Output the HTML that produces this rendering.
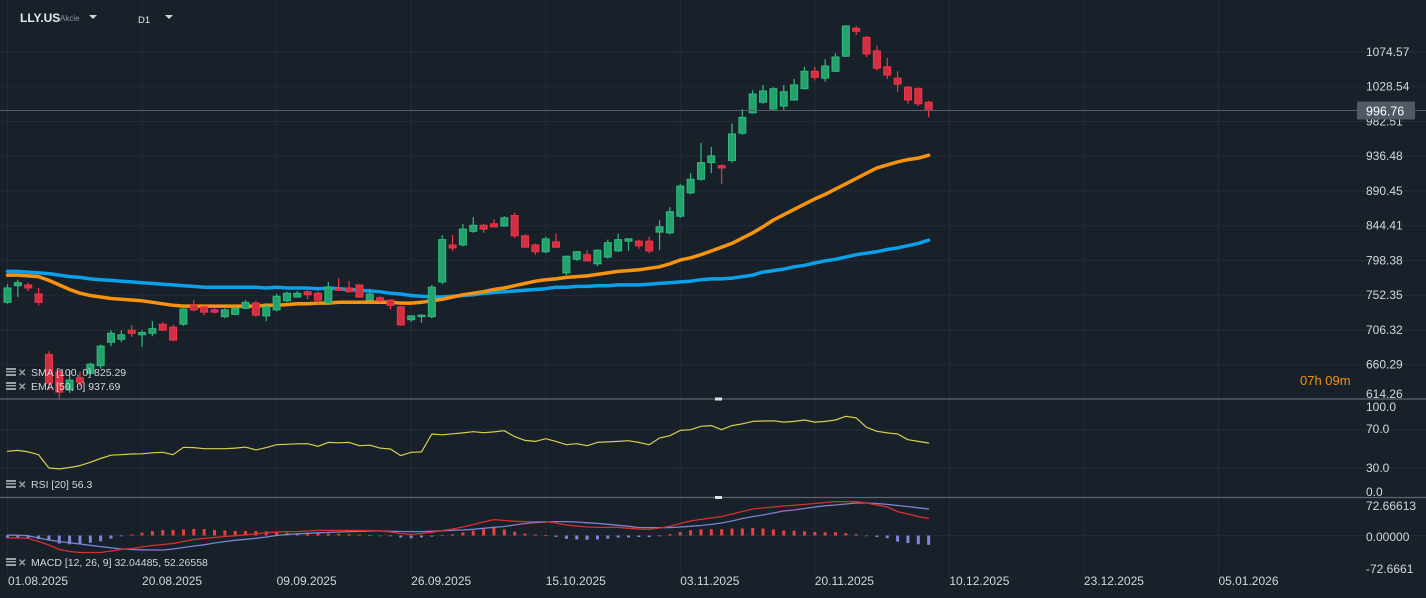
<!DOCTYPE html>
<html><head><meta charset="utf-8"><style>
html,body{margin:0;padding:0;background:#18202a;overflow:hidden}
svg{display:block;font-family:"Liberation Sans",sans-serif}
</style></head><body>
<svg id="chart" width="1426" height="598" viewBox="0 0 1426 598" xmlns="http://www.w3.org/2000/svg">
<rect x="0" y="0" width="1426" height="598" fill="#18202a"/>
<g id="grid"></g>
<g id="main"></g>
<g id="rsi"></g>
<g id="macd"></g>
<g id="axes"></g>
<g>
<text x="20" y="22" fill="#e8eaed" font-size="12" font-weight="bold">LLY.US</text>
<text x="60" y="21" fill="#8a939c" font-size="8">Akcie</text>
<path d="M89 15 L97 15 L93 19 Z" fill="#cfd3d7"/>
<text x="138" y="23" fill="#e8eaed" font-size="9.5">D1</text>
<path d="M165 15 L173 15 L169 19 Z" fill="#cfd3d7"/>
</g>
</svg>
<script>
const categories=["01.08.2025","20.08.2025","09.09.2025","26.09.2025","15.10.2025","03.11.2025","20.11.2025","10.12.2025","23.12.2025","05.01.2026"];
const priceTicks=[1074.57,1028.54,982.51,936.48,890.45,844.41,798.38,752.35,706.32,660.29,614.26];
const openV=[743,765,766,754,674,651,627,643,649,659,690,694,706,700,702,714,710,714,739,737,733,724,727,735,742,725,733,745,750,757,755,742,761,762,766,746,749,746,737,720,724,724,770,819,819,837,845,847,844,858,831,819,810,823,782,800,806,794,803,811,824,824,824,836,835,857,888,906,928,924,931,967,994,1008,999,1003,1011,1026,1049,1040,1049,1069,1106,1094,1076,1055,1040,1028,1026,1008];
const highV=[767,773,769,762,678,656,653,651,663,687,706,706,713,706,718,717,713,735,746,739,735,735,737,746,745,742,754,757,758,759,757,770,775,771,767,761,751,747,738,726,727,766,832,832,847,856,847,853,857,862,833,821,830,834,805,811,812,813,826,834,828,826,830,852,869,900,914,954,949,926,980,999,1024,1031,1028,1031,1039,1055,1055,1065,1073,1110,1109,1096,1083,1067,1049,1030,1028,1010];
const lowV=[741,750,758,739,627,616,623,632,647,655,685,690,697,684,698,705,692,712,731,726,728,722,726,734,724,718,731,743,749,747,741,741,758,756,749,745,743,734,712,717,716,722,767,811,817,835,835,842,843,828,815,806,808,815,779,798,797,791,801,810,811,814,808,812,833,855,886,904,914,900,928,965,993,1006,998,998,1010,1025,1037,1035,1048,1068,1097,1068,1050,1039,1022,1006,1003,988];
const closeV=[762,769,762,743,636,624,640,637,661,685,702,700,702,703,708,706,693,734,733,730,730,733,735,743,726,737,751,755,755,753,746,763,759,757,750,754,745,739,713,725,726,763,826,815,840,845,840,843,855,831,816,810,827,816,804,810,798,812,822,826,827,818,811,843,863,897,906,928,937,921,966,988,1019,1023,1026,1022,1031,1049,1041,1056,1068,1109,1102,1072,1053,1044,1032,1011,1006,997];
const smaV=[784,784,783,782,781,779,777,776,774,773,772,771,770,769,768,767,766,765,764,763,763,763,763,763,763,762,763,762,762,762,761,762,761,760,759,758,757,755,754,752,751,750,750,751,752,753,755,756,757,758,759,760,761,763,763,764,764,765,765,766,766,766,767,768,769,770,771,773,774,774,775,777,779,783,785,787,790,792,795,798,800,803,806,808,810,813,815,818,821,825.29];
const emaV=[779,779,778,777,772,766,760,755,752,750,748,747,746,745,743,741,739,738,738,738,738,738,738,738,738,739,739,740,741,741,742,742,743,743,743,743,743,743,742,742,743,745,747,750,753,755,757,760,762,765,768,771,773,774,776,777,778,780,782,784,785,786,788,790,794,799,802,806,811,816,821,828,835,843,852,859,866,873,880,886,893,900,907,914,921,925,929,932,934,937.69];
const rsiV=[47.6,48.5,47,44,30,29,30.5,32.5,36,40,43.5,44,44.7,45,46,46.5,44,51.8,51.5,50.3,50.3,50.3,51,52,49,51.5,54.5,55,55.5,55.6,52.8,57,56.5,57,53.5,54,51,50,43,46.5,46.9,65.8,65,66,67,68.2,67.2,68,69.3,63,59,58,60.8,58,54.5,55.6,53.5,57,57.5,58,58.7,57,54.5,61.6,64,69.6,70.3,73.9,74.6,70.3,74.6,76.5,79,79.5,79.7,78.3,79,80.5,78.3,79,80.5,84.4,82.7,72.8,68.6,67,65.8,59.8,58,56.3];
const macdV=[-4.4,-5,-5.7,-12,-19,-28,-32,-34,-34,-34,-31,-28,-26,-23,-20,-18,-16,-12,-8,-5.7,-4,-2,-0.4,1.5,3.5,5.5,7,7.7,8,9,10.3,10.3,10.3,10.3,10.3,10,9,7,4,2.3,4,6.3,10,13,17,22,27,31.7,30,28.5,27.7,27.7,27.7,25,21,19,17,16.3,16.3,16.3,14.5,13,12.3,15,18.5,24,29,32.3,35,37.7,43,48,53,55,57,59,60.5,62.3,64,66,67.7,67.7,67.7,65,61,57,47.7,43,38,34.3];
const signalV=[1,0.5,-0.4,-5,-9,-12,-14.5,-17,-19.5,-22.3,-24.5,-27,-28,-28.5,-29,-29,-27,-24,-21,-18.5,-15,-12,-9.5,-7.5,-5.5,-3,0,2,3.5,4.5,5.5,6.2,7,7.7,8.5,9,9,8.5,8,7.8,7.7,8.5,9.5,10.5,11,12.5,14.5,16.5,18,21,24,25.7,27,27.7,27.7,27,25.5,24.3,22.5,20.5,18.5,16,15.7,15.7,15.7,17,18.5,20,22.3,25,29,34,37.7,41,45,49,51,54,57,59.5,61,63,65,65,64,62.3,60,58,55.5,53];
const rsiTicks=[100,70,30,0];
const macdTicks=["72.66613","0.00000","-72.6661"];

const NS="http://www.w3.org/2000/svg";
function mk(tag,attrs,parent){const e=document.createElementNS(NS,tag);for(const k in attrs)e.setAttribute(k,attrs[k]);parent.appendChild(e);return e;}
const xI=i=>7.5+10.35*i;
const yP=p=>52+(1074.57-p)*0.7549;
const yR=v=>496.5-0.95*v;
const yM=v=>535.5-0.5*v;
const G=document.getElementById('grid'),M=document.getElementById('main'),R=document.getElementById('rsi'),D=document.getElementById('macd'),A=document.getElementById('axes');

categories.forEach((c,k)=>{
  const x=xI(13*k);
  const l=mk('line',{x1:x,x2:x,y1:0,y2:575,stroke:'#232c36','stroke-width':1},G);
  
  
  const t=mk('text',{x:k===0?8:x,y:585,fill:'#d4d7db','font-size':12},A);
  t.textContent=c;
  
  
});
priceTicks.forEach(p=>{
  const y=yP(p);
  if(y<398){const l=mk('line',{x1:0,x2:1426,y1:y,y2:y,stroke:'#232c36','stroke-width':1},G);
  
  }
  const t=mk('text',{x:1366,y:Math.min(y,394)+4,fill:'#d4d7db','font-size':12},A);
  t.textContent=p.toFixed(2);
  
  
});
[70,30].forEach(v=>{const l=mk('line',{x1:0,x2:1426,y1:yR(v),y2:yR(v),stroke:'#232c36'},G);
  
  });
const rsiLabY=[407,429,468,492];
rsiTicks.forEach((v,k)=>{const t=mk('text',{x:1366,y:rsiLabY[k]+4,fill:'#d4d7db','font-size':12},A);t.textContent=v.toFixed(1);
  
  });
{const l=mk('line',{x1:0,x2:1426,y1:yM(0),y2:yM(0),stroke:'#232c36'},G);
  
  }
const macdLabY=[506,537,569];
macdTicks.forEach((s,k)=>{const t=mk('text',{x:1366,y:macdLabY[k]+4,fill:'#d4d7db','font-size':12},A);t.textContent=s;
  
  });
[[399,'rsi-separator'],[497.5,'macd-separator']].forEach(([y,n])=>{
  const l=mk('line',{x1:0,x2:1426,y1:y,y2:y,stroke:'#5c6670','stroke-width':1.2},A);
  
  
  const h=mk('rect',{x:715,y:y-1.5,width:7,height:3,fill:'#e0e0e0'},A);
  
  
});

function poly(arr,yf,parent,color,w){const pts=arr.map((v,i)=>xI(i).toFixed(1)+','+yf(v).toFixed(1)).join(' ');return mk('polyline',{points:pts,fill:'none',stroke:color,'stroke-width':w,'stroke-linejoin':'round','stroke-linecap':'round'},parent);}

const smaL=poly(smaV,yP,M,'#0aa0ea',3.5);


const emaL=poly(emaV,yP,M,'#f7930f',3.5);



openV.forEach((o,i)=>{
  const c=closeV[i],h=highV[i],l=lowV[i],up=c>=o;
  const x=xI(i);
  const col=up?'#2ebd7f':'#f23645',fill=up?'#23a26b':'#d22f43';
  const g=mk('g',{},M);
  
  
  mk('line',{x1:x,x2:x,y1:yP(h),y2:yP(l),stroke:col,'stroke-width':1.2},g);
  const top=yP(Math.max(o,c)),bot=yP(Math.min(o,c));
  mk('rect',{x:x-3.5,y:top,width:7,height:Math.max(bot-top,1.5),fill:fill,stroke:col,'stroke-width':1},g);
});

{const y=yP(closeV[closeV.length-1]);
 const l=mk('line',{x1:0,x2:1426,y1:y,y2:y,stroke:'#56616c','stroke-width':1},M);
 
 
 const r=mk('rect',{x:1357,y:y-9,width:58,height:18,fill:'#4f5a65',rx:1},A);
 
 
 const t=mk('text',{x:1366,y:y+5,fill:'#ffffff','font-size':12.5},A);
 t.textContent=(996.76).toFixed(2);
 
 }
{const t=mk('text',{x:1300,y:385,fill:'#f7930f','font-size':13},A);t.textContent='07h 09m';
 
 }

const rsiL=poly(rsiV,yR,R,'#d8cf4e',1.2);



macdV.forEach((m,i)=>{
  const h=m-signalV[i];
  const y0=yM(0),y1=yM(h);
  const r=mk('rect',{x:xI(i)-1.5,y:Math.min(y0,y1),width:3,height:Math.max(Math.abs(y1-y0),0.8),fill:h>=0?'#e8413e':'#7f88d8'},D);
  
  
});
const sigL=poly(signalV,yM,D,'#7a84d0',1.3);


const macL=poly(macdV,yM,D,'#d8302f',1.3);



function legend(y,txt,name){
  const g=mk('g',{},A);
  
  
  mk('rect',{x:6,y:y-7,width:10,height:2,fill:'#9aa1a8'},g);
  mk('rect',{x:6,y:y-4,width:10,height:1.5,fill:'#9aa1a8'},g);
  mk('rect',{x:6,y:y-1,width:10,height:2,fill:'#9aa1a8'},g);
  const x=mk('text',{x:18,y:y+1,fill:'#9aa1a8','font-size':10,'font-weight':'bold'},g);x.textContent='✕';
  const t=mk('text',{x:31,y:y+1,fill:'#d4d7db','font-size':10.5},g);t.textContent=txt;
}
legend(375,'SMA [100, 0]  825.29','sma-legend');
legend(389,'EMA [50, 0]  937.69','ema-legend');
legend(487,'RSI [20]  56.3','rsi-legend');
legend(565,'MACD [12, 26, 9]  32.04485,  52.26558','macd-legend');
</script>
</body></html>
